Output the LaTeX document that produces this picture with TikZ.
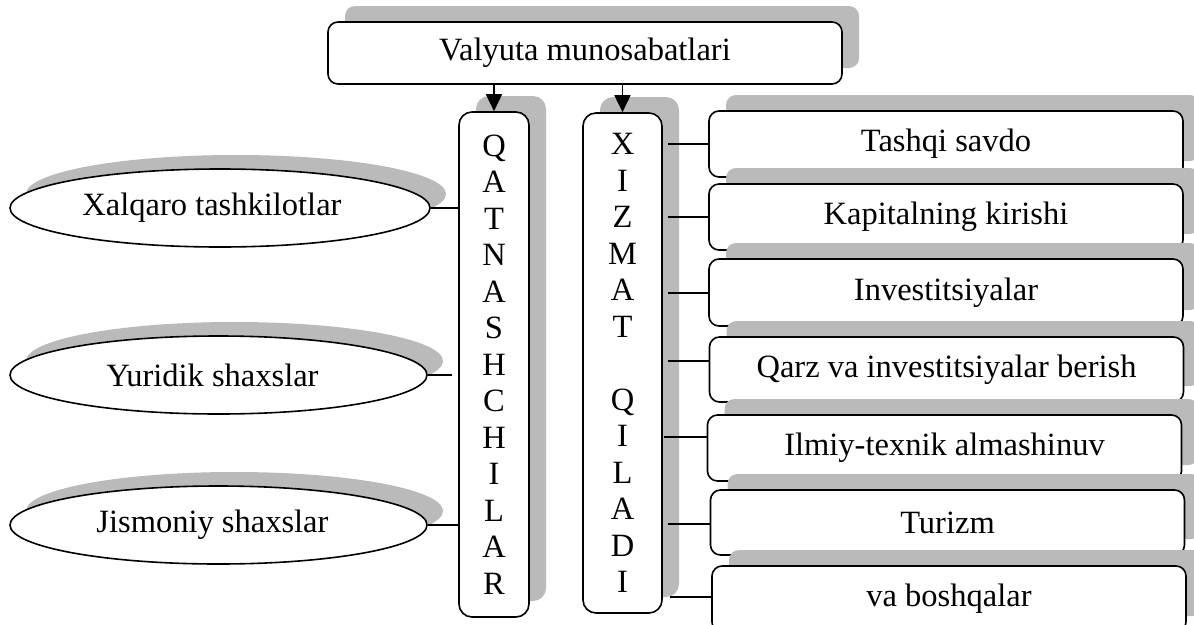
\documentclass[tikz,border=0pt]{standalone}
\usepackage{fontspec}
\setmainfont{Liberation Serif}
\usetikzlibrary{shapes.geometric,shadows,arrows.meta}
\begin{document}
\begin{tikzpicture}[x=1pt,y=-1pt,
  every node/.style={font=\fontsize{32.5}{36.5}\selectfont},
  shad/.style={general shadow={fill=black!27, shadow xshift=17pt, shadow yshift=16pt}},
  box/.style={draw, line width=1.6pt, rounded corners=10pt, fill=white, inner sep=0pt, shad},
  vbox/.style={box, rounded corners=13pt, align=center},
  rbox/.style={box, minimum width=474pt, minimum height=66pt},
  ell/.style={draw, ellipse, line width=1.6pt, fill=white, inner sep=0pt, minimum height=78pt,
    general shadow={fill=black!27, shadow xshift=16pt, shadow yshift=14pt}},
  conn/.style={line width=1.6pt},
  arr/.style={line width=1.6pt, -{Triangle[length=17pt,width=16pt]}}
]
\useasboundingbox (0,0) rectangle (1194,624);

% top box
\node[box, minimum width=514pt, minimum height=62pt] (top) at (585,53) {Valyuta munosabatlari};

% vertical boxes
\node[vbox, minimum width=70pt, minimum height=505pt] (q) at (494,364.5)
  {Q\\A\\T\\N\\A\\S\\H\\C\\H\\I\\L\\A\\R};
\node[vbox, minimum width=79pt, minimum height=500pt] (x) at (622.5,363)
  {X\\I\\Z\\M\\A\\T\\~\\Q\\I\\L\\A\\D\\I};

% right boxes
\node[rbox] (r1) at (946,144) {Tashqi savdo};
\node[rbox] (r2) at (946,217) {Kapitalning kirishi};
\node[rbox, minimum height=67pt] (r3) at (946,292.5) {Investitsiyalar};
\node[rbox, minimum height=65pt] (r4) at (946.5,369.5) {Qarz va investitsiyalar berish};
\node[rbox] (r5) at (944.5,448) {Ilmiy-texnik almashinuv};
\node[rbox, minimum height=65pt] (r6) at (947.5,522.5) {Turizm};
\node[rbox] (r7) at (949,599) {va boshqalar};

% ellipses
\node[ell, minimum width=420pt] (e1) at (220,208) {\hspace*{-16pt}Xalqaro tashkilotlar};
\node[ell, minimum width=417pt] (e2) at (218.5,375) {\hspace*{-12pt}Yuridik shaxslar};
\node[ell, minimum width=417pt] (e3) at (218.5,525) {\hspace*{-12pt}Jismoniy shaxslar};

% arrows from top box
\draw[arr] (top.south -| q.north) -- (q.north);
\draw[arr] (top.south -| x.north) -- (x.north);

% ellipse connectors
\draw[conn] (e1.east) -- (q.west |- e1.east);
\draw[conn, shorten >=6pt] (e2.east) -- (q.west |- e2.east);
\draw[conn] (e3.east) -- (q.west |- e3.east);

% right connectors
\coordinate (y1) at (0,144);
\coordinate (y2) at (0,217);
\coordinate (y3) at (0,293);
\coordinate (y4) at (0,361);
\coordinate (y5) at (0,437);
\coordinate (y6) at (0,524);
\coordinate (y7) at (0,597);
\draw[conn] ([xshift=5pt]x.east |- y1) -- (r1.west |- y1);
\draw[conn] ([xshift=5pt]x.east |- y2) -- (r2.west |- y2);
\draw[conn] ([xshift=5pt]x.east |- y3) -- (r3.west |- y3);
\draw[conn] ([xshift=5pt]x.east |- y4) -- (r4.west |- y4);
\draw[conn] ([xshift=1pt]x.east |- y5) -- (r5.west |- y5);
\draw[conn] ([xshift=5pt]x.east |- y6) -- (r6.west |- y6);
\draw[conn] ([xshift=7pt]x.east |- y7) -- (r7.west |- y7);
\end{tikzpicture}
\end{document}
